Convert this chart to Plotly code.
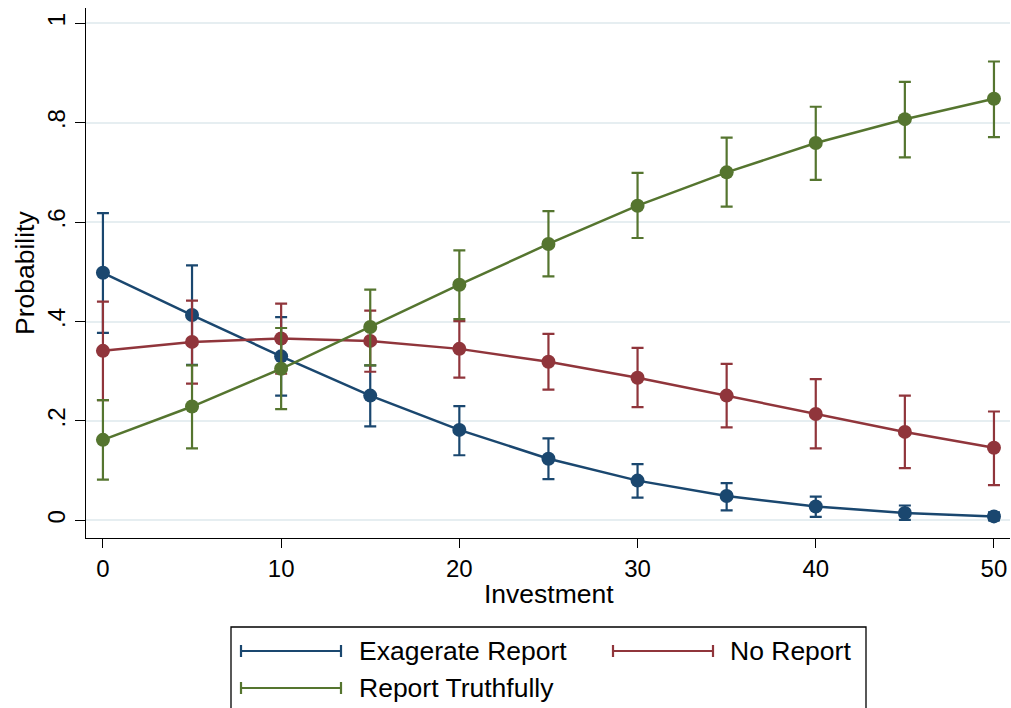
import plotly.graph_objects as go

investment = [0, 5, 10, 15, 20, 25, 30, 35, 40, 45, 50]

exag = [0.498, 0.413, 0.330, 0.251, 0.182, 0.124, 0.080, 0.049, 0.028, 0.015, 0.008]
exag_lo = [0.377, 0.313, 0.251, 0.189, 0.131, 0.083, 0.046, 0.020, 0.007, 0.001, 0.000]
exag_hi = [0.618, 0.513, 0.409, 0.312, 0.230, 0.165, 0.113, 0.075, 0.048, 0.030, 0.016]

norep = [0.341, 0.359, 0.366, 0.361, 0.345, 0.319, 0.287, 0.251, 0.214, 0.178, 0.146]
norep_lo = [0.242, 0.275, 0.295, 0.299, 0.287, 0.263, 0.228, 0.187, 0.145, 0.105, 0.071]
norep_hi = [0.440, 0.442, 0.436, 0.422, 0.401, 0.375, 0.347, 0.315, 0.284, 0.251, 0.219]

truth = [0.162, 0.229, 0.305, 0.389, 0.474, 0.556, 0.633, 0.700, 0.759, 0.807, 0.848]
truth_lo = [0.082, 0.145, 0.224, 0.312, 0.405, 0.491, 0.568, 0.631, 0.685, 0.730, 0.771]
truth_hi = [0.242, 0.312, 0.387, 0.464, 0.543, 0.622, 0.699, 0.770, 0.832, 0.882, 0.923]

series_names = ["Exagerate Report", "No Report", "Report Truthfully"]
colors = ["#1a476f", "#90353b", "#55752f"]

y_tickvals = [0, 0.2, 0.4, 0.6, 0.8, 1]
y_ticktext = ["0", ".2", ".4", ".6", ".8", "1"]
x_tickvals = [0, 10, 20, 30, 40, 50]

FONT = "Liberation Sans, Arial, sans-serif"

fig = go.Figure()
for name, col, y, lo, hi in zip(series_names, colors,
                                [exag, norep, truth],
                                [exag_lo, norep_lo, truth_lo],
                                [exag_hi, norep_hi, truth_hi]):
    fig.add_trace(go.Scatter(
        x=investment, y=y, name=name, mode="lines+markers",
        line=dict(color=col, width=2.5),
        marker=dict(color=col, size=14, line=dict(width=0)),
        error_y=dict(type="data", symmetric=False,
                     array=[h - v for h, v in zip(hi, y)],
                     arrayminus=[v - l for v, l in zip(y, lo)],
                     color=col, thickness=2.2, width=6),
        showlegend=False,
    ))

# Plot area spans page pixels x 86..1010, y 8..538.
H = 530.0
W = 924.0
def px(xp):
    return (xp - 86) / W
def py(yp):
    return (538 - yp) / H

shapes = [dict(type="rect", xref="paper", yref="paper",
               x0=px(231), x1=px(866), y0=py(627), y1=py(716),
               line=dict(color="black", width=1.3), fillcolor="white", layer="above")]
annotations = []
legend_pos = [(241, 651, 357), (613, 651, 728), (241, 688, 357)]
for (lx, ly, tx), name, col in zip(legend_pos, series_names, colors):
    shapes.append(dict(type="line", xref="paper", yref="paper",
                       x0=px(lx), x1=px(lx + 100), y0=py(ly), y1=py(ly),
                       line=dict(color=col, width=2.2)))
    for cx in (lx, lx + 100):
        shapes.append(dict(type="line", xref="paper", yref="paper",
                           x0=px(cx), x1=px(cx), y0=py(ly - 6), y1=py(ly + 6),
                           line=dict(color=col, width=2.2)))
    annotations.append(dict(xref="paper", yref="paper", x=px(tx), y=py(ly),
                            xanchor="left", yanchor="middle", showarrow=False,
                            text=name, font=dict(family=FONT, size=26.5, color="black")))

annotations.append(dict(xref="paper", yref="paper", x=px(549), y=py(594),
                        xanchor="center", yanchor="middle", showarrow=False,
                        text="Investment", font=dict(family=FONT, size=26.5, color="black")))
annotations.append(dict(xref="paper", yref="paper", x=px(25), y=py(273),
                        xanchor="center", yanchor="middle", showarrow=False, textangle=-90,
                        text="Probability", font=dict(family=FONT, size=26.5, color="black")))

fig.update_layout(
    width=1011, height=708,
    margin=dict(l=86, r=1, t=8, b=170),
    paper_bgcolor="white", plot_bgcolor="white",
    font=dict(family=FONT, size=24, color="black"),
    shapes=shapes, annotations=annotations,
    xaxis=dict(range=[-0.95, 50.9], tickvals=x_tickvals, ticks="outside", ticklen=9,
               tickwidth=1.3, tickcolor="black", showline=True, linecolor="black",
               linewidth=1.3, showgrid=False, zeroline=False, automargin=False,
               tickfont=dict(size=24)),
    yaxis=dict(range=[-0.0354, 1.0306], tickvals=y_tickvals, ticktext=y_ticktext,
               ticks="outside", ticklen=10, tickwidth=1.3, tickcolor="black",
               showline=True, linecolor="black", linewidth=1.3, automargin=False,
               showgrid=True, gridcolor="#e6eef1", gridwidth=2, zeroline=False,
               tickangle=-90, tickfont=dict(size=24)),
)

fig.write_html("out.html", config={"displayModeBar": False},
               post_script="document.body.style.margin='0';document.body.style.overflow='hidden';")
